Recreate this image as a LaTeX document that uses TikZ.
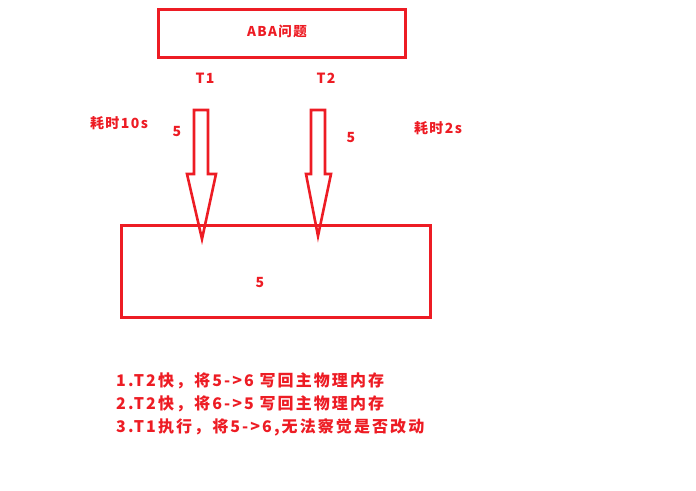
\documentclass[tikz,border=0pt]{standalone}
\usepackage{fontspec}
\setmainfont{Noto Sans CJK SC}[LetterSpace=10]
\usetikzlibrary{positioning}
\definecolor{abared}{RGB}{237,28,36}
\tikzset{
  frame/.style={draw=abared, line width=3pt},
  lbl/.style={text=abared, inner sep=0pt, font=\fontsize{14}{16}\selectfont\bfseries},
  step line/.style={lbl, anchor=west, font=\fontsize{16}{18}\selectfont\bfseries\addfontfeatures{LetterSpace=13}}
}
\begin{document}
\begin{tikzpicture}[x=1pt, y=-1pt]
		\useasboundingbox (0,0) rectangle (696,490);
		\draw[frame] (158,9) rectangle (405,57);
		\node[lbl, font=\fontsize{13.5}{15}\selectfont\bfseries] (title) at (277,31) {ABA问题};
		\node[lbl] (t1) at (205,78) {T1};
		\node[lbl] (t2) at (326,78) {T2};
		\node[lbl] (cost1) at (119,123) {耗时10s};
		\node[lbl] (val1) at (177,132) {5};
		\node[lbl] (val2) at (351,138) {5};
		\node[lbl] (cost2) at (438,128) {耗时2s};
		\draw[frame] (121,225) rectangle (430,317);
		\node[lbl] (mem) at (260,283) {5};
		% hollow arrows
		\draw[draw=abared, line width=2.6pt, line join=miter]
			(194,110)--(208,110)--(208,174)--(216,174)--(202,239)--(187,174)--(194,174)--cycle;
		\draw[draw=abared, line width=2.6pt, line join=miter]
			(311,110)--(325,110)--(325,174)--(331,174)--(318,236)--(306,174)--(311,174)--cycle;
		\node[step line] (s1) at (116,381) {1.T2快，将5->6 写回主物理内存};
		\node[step line] (s2) at (116,404) {2.T2快，将6->5 写回主物理内存};
		\node[step line] (s3) at (116,427) {3.T1执行，将5->6,无法察觉是否改动};
\end{tikzpicture}
\end{document}
